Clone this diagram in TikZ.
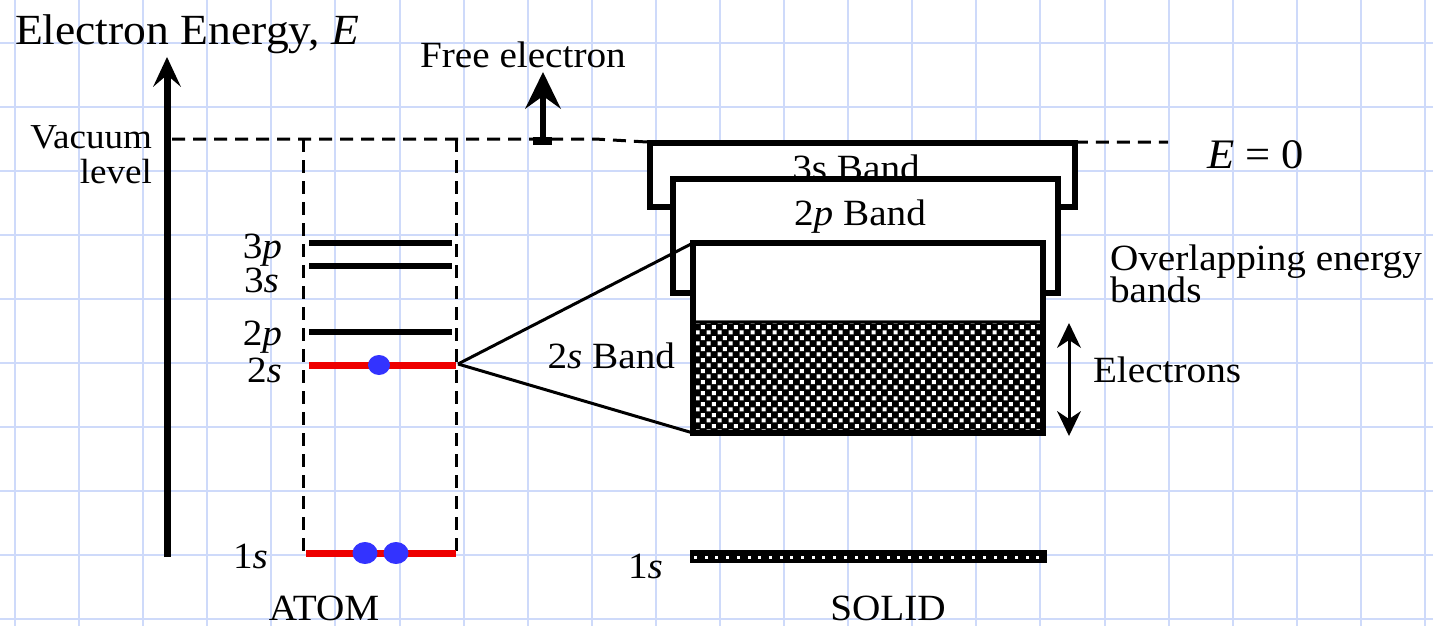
\documentclass[tikz,border=0pt]{standalone}
\usepackage{fontspec}
\setmainfont{Liberation Serif}[FakeStretch=1.06]
\usetikzlibrary{arrows.meta,patterns}
\newcommand\myfs[1]{\fontsize{#1}{#1}\selectfont}
\definecolor{gridc}{RGB}{206,218,250}
\definecolor{dotc}{RGB}{51,51,255}
\definecolor{levred}{RGB}{238,0,0}
\pgfdeclarepatternformonly{elecpat}{\pgfpointorigin}{\pgfqpoint{10.7pt}{10.7pt}}{\pgfqpoint{10.7pt}{10.7pt}}{%
  \pgfpathrectangle{\pgfqpoint{0.6pt}{0.6pt}}{\pgfqpoint{4.2pt}{4.2pt}}%
  \pgfpathrectangle{\pgfqpoint{5.95pt}{5.95pt}}{\pgfqpoint{4.2pt}{4.2pt}}%
  \pgfusepath{fill}}
\tikzset{
  gridline/.style={gridc, line width=2},
  vacdash/.style={line width=3, dash pattern=on 13pt off 8pt},
  level/.style={line width=6},
  redlevel/.style={levred, line width=7},
  electron/.style={fill=dotc, draw=none},
  bandbox/.style={draw, fill=white, line width=6, inner sep=0, outer sep=0},
  lbl/.style={inner sep=0, outer sep=0, font=\myfs{37}},
  cone/.style={line width=3},
  headfill/.style={fill=black, draw=none},
}
\begin{document}
\begin{tikzpicture}[x=1pt,y=-1pt]
\useasboundingbox (0,0) rectangle (1433,626);
% grid
\foreach \k in {0,...,22} \draw[gridline] ({15+64.09*\k},0) -- ({15+64.09*\k},626);
\foreach \k in {0,...,9} \draw[gridline] (0,{43+64*\k}) -- (1433,{43+64*\k});

% title and axis
\node[lbl, font=\myfs{43}, anchor=base west] (title) at (15,45) {Electron Energy, \textit{E}};
\coordinate (axbot) at (167,557);
\coordinate (axtop) at (167,74);
\draw[line width=7] (axbot) -- (axtop);
\fill[headfill] (167,57) -- (181,87) -- (167,75) -- (153,87) -- cycle;
\node[lbl, font=\myfs{35}, anchor=base east] (vac1) at (152,148) {Vacuum};
\node[lbl, font=\myfs{35}, anchor=base east] (vac2) at (152,183) {level};

% solid bands
\node[bandbox, minimum width=425, minimum height=64] (b3s) at (862.5,175) {};
\node[lbl, anchor=base] (t3s) at (856,180) {3s Band};
\node[bandbox, minimum width=385, minimum height=114] (b2p) at (865.5,236) {};
\node[lbl, anchor=base] (t2p) at (860,225) {2\textit{p} Band};
\node[bandbox, minimum width=350, minimum height=190] (b2s) at (868,338) {};
\fill[black] (693,321) rectangle (1043,433);
\fill[pattern=elecpat, pattern color=white] (696,323) rectangle (1040,430);
\draw[line width=1, black!60] (693,320) -- (1043,320);
\draw[line width=6] (b2s.north west) rectangle (b2s.south east);

% vacuum level dashed line
\coordinate (v0) at (172,139);
\coordinate (v1) at (595,139);
\coordinate (v2) at (647,142);
\coordinate (v3) at (1168,142);
\draw[vacdash] (v0) -- (v1) -- (v2) -- (v3);
\node[lbl, font=\myfs{42}, anchor=base west] (ezero) at (1207,168) {\textit{E} = 0};

% free electron
\node[lbl, anchor=base west] (free) at (420,68) {Free electron};
\coordinate (fbase) at (543,143);
\coordinate (ftip) at (543,92);
\fill (533,137) rectangle (552,145);
\draw[line width=6] (fbase) -- (ftip);
\fill[headfill] (543,72) -- (561,109) -- (543,96) -- (525,109) -- cycle;

% atom box
\draw[vacdash] (303,139) -- (303,553);
\draw[vacdash] (456,139) -- (456,553);

% atom levels
\draw[level] (309,243) -- (452,243);
\draw[level] (309,266) -- (452,266);
\draw[level] (309,332) -- (452,332);
\draw[redlevel] (309,365) -- (456,365);
\draw[redlevel] (306,553) -- (456,553);
\fill[electron] (379,365) ellipse [x radius=11, y radius=10];
\fill[electron] (365,553) ellipse [x radius=12.5, y radius=11];
\fill[electron] (396,553) ellipse [x radius=12.5, y radius=11];
\node[lbl, anchor=base east] (l3p) at (282,258) {3\textit{p}};
\node[lbl, anchor=base east] (l3s) at (279,292) {3\textit{s}};
\node[lbl, anchor=base east] (l2p) at (282,345) {2\textit{p}};
\node[lbl, anchor=base east] (l2s) at (282,382) {2\textit{s}};
\node[lbl, anchor=base east] (l1s) at (268,568) {1\textit{s}};

% cone from 2s level to 2s band
\coordinate (apex) at (458,364);
\draw[cone] (apex) -- (b2s.north west);
\draw[cone] (apex) -- (b2s.south west);
\node[lbl, anchor=base east] (t2s) at (675,368) {2\textit{s} Band};

% right labels
\node[lbl, anchor=base west] (ov1) at (1110,270) {Overlapping energy};
\node[lbl, anchor=base west] (ov2) at (1110,302) {bands};
\node[lbl, anchor=base west] (elec) at (1093,382) {Electrons};
\coordinate (etop) at (1069,338);
\coordinate (ebot) at (1069,421);
\draw[line width=3] (etop) -- (ebot);
\fill[headfill] (1069,323) -- (1081,348) -- (1069,340) -- (1057,348) -- cycle;
\fill[headfill] (1069,436) -- (1081,411) -- (1069,419) -- (1057,411) -- cycle;

% solid 1s
\fill[black] (690,550) rectangle (1047,563);
\foreach \i in {0,...,32} \fill[white] ({694+10.7*\i},556) rectangle ++(3,3);
\node[lbl, anchor=base east] (s1s) at (663,578) {1\textit{s}};

% captions
\node[lbl, anchor=base] (atom) at (324,620) {ATOM};
\node[lbl, anchor=base] (solid) at (888,620) {SOLID};
\end{tikzpicture}
\end{document}
